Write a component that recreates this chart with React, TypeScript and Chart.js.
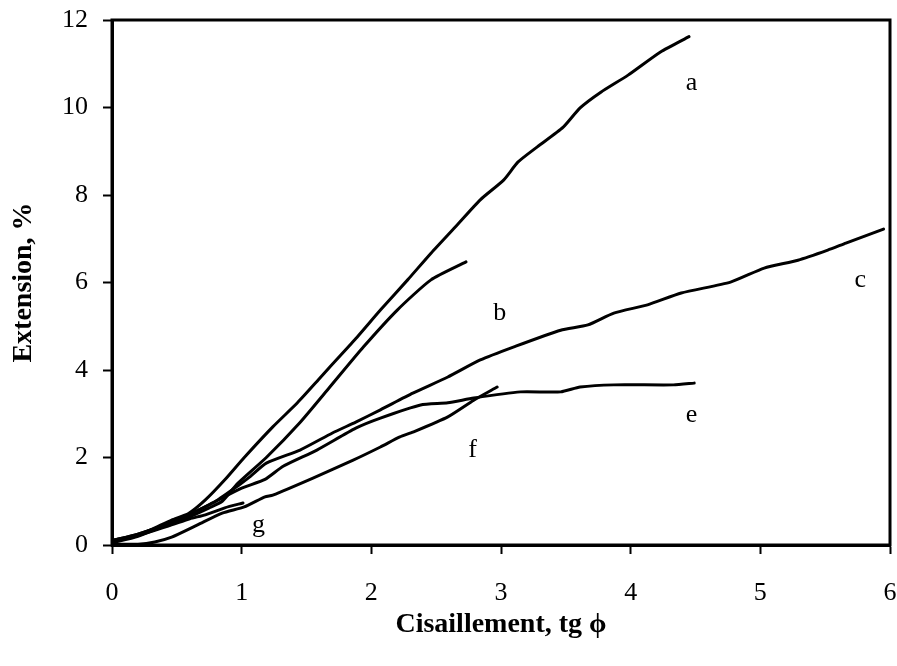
import React, { useEffect, useRef } from "react";
import { Chart, registerables } from "chart.js";

Chart.register(...registerables);

// Curve data (x = Cisaillement tg φ, y = Extension %)
const aX = [0, 0.16, 0.3, 0.46, 0.59, 0.72, 0.87, 1.02, 1.24, 1.43, 1.59, 1.68, 1.89, 2.07, 2.28, 2.46, 2.66, 2.84, 3.02, 3.13, 3.28, 3.48, 3.61, 3.77, 3.98, 4.23, 4.45];
const aY = [0.1, 0.18, 0.35, 0.57, 0.72, 1.03, 1.49, 2.0, 2.7, 3.25, 3.77, 4.07, 4.75, 5.37, 6.06, 6.67, 7.31, 7.89, 8.34, 8.75, 9.1, 9.55, 9.99, 10.35, 10.74, 11.27, 11.62];

const bX = [0, 0.2, 0.45, 0.6, 0.75, 0.85, 0.97, 1.19, 1.45, 1.68, 1.94, 2.2, 2.46, 2.73];
const bY = [0.05, 0.2, 0.5, 0.65, 0.85, 1.0, 1.41, 2.0, 2.8, 3.61, 4.53, 5.37, 6.06, 6.47];

const cX = [0, 0.2, 0.45, 0.6, 0.8, 0.97, 1.06, 1.19, 1.45, 1.7, 1.88, 2.07, 2.32, 2.59, 2.84, 3.1, 3.46, 3.67, 3.87, 4.13, 4.39, 4.77, 5.03, 5.29, 5.52, 5.66, 5.95];
const cY = [0.1, 0.25, 0.5, 0.7, 1.0, 1.35, 1.55, 1.87, 2.17, 2.56, 2.81, 3.09, 3.47, 3.84, 4.23, 4.53, 4.91, 5.03, 5.3, 5.49, 5.76, 6.01, 6.33, 6.51, 6.74, 6.9, 7.22];

const eX = [0, 0.2, 0.45, 0.6, 0.8, 1.0, 1.18, 1.32, 1.58, 1.88, 2.07, 2.38, 2.59, 2.79, 3.15, 3.46, 3.61, 3.87, 4.33, 4.49];
const eY = [0.1, 0.25, 0.5, 0.7, 1.0, 1.3, 1.5, 1.8, 2.17, 2.67, 2.9, 3.2, 3.25, 3.36, 3.5, 3.5, 3.61, 3.66, 3.66, 3.7];

const fX = [0, 0.2, 0.33, 0.46, 0.66, 0.85, 1.02, 1.18, 1.24, 1.55, 1.86, 2.07, 2.22, 2.32, 2.59, 2.79, 2.97];
const fY = [0.02, 0.02, 0.07, 0.18, 0.46, 0.73, 0.87, 1.1, 1.14, 1.53, 1.94, 2.24, 2.47, 2.58, 2.93, 3.31, 3.61];

const gX = [0, 0.2, 0.45, 0.6, 0.72, 0.87, 1.01];
const gY = [0.1, 0.22, 0.45, 0.6, 0.69, 0.85, 0.96];

const curveNames = ["a", "b", "c", "e", "f", "g"];
const curveLabelX = [4.47, 2.99, 5.77, 4.47, 2.78, 1.13];
const curveLabelY = [10.56, 5.3, 6.06, 2.97, 2.17, 0.46];

const xTicks = [0, 1, 2, 3, 4, 5, 6];
const yTicks = [0, 2, 4, 6, 8, 10, 12];

const xTitle = "Cisaillement, tg \u03D5";
const yTitle = "Extension, %";

const SERIF = "'Liberation Serif', 'Times New Roman', serif";

function pts(xs: number[], ys: number[]) {
  return xs.map((x, i) => ({ x, y: ys[i] }));
}

const frameAndLabels = {
  id: "frameAndLabels",
  afterDraw(chart: any) {
    const { ctx, chartArea } = chart;
    const xs = chart.scales.x;
    const ys = chart.scales.y;
    ctx.save();
    ctx.strokeStyle = "#000";
    ctx.lineWidth = 3;
    ctx.strokeRect(chartArea.left, chartArea.top, chartArea.right - chartArea.left, chartArea.bottom - chartArea.top);
    ctx.fillStyle = "#000";
    ctx.font = `26px ${SERIF}`;
    ctx.textAlign = "center";
    ctx.textBaseline = "middle";
    curveNames.forEach((n, i) => {
      ctx.fillText(n, xs.getPixelForValue(curveLabelX[i]), ys.getPixelForValue(curveLabelY[i]));
    });
    ctx.restore();
  },
};

export default function App() {
  const ref = useRef<HTMLCanvasElement | null>(null);
  useEffect(() => {
    document.body.style.margin = "0";
    const series = [pts(aX, aY), pts(bX, bY), pts(cX, cY), pts(eX, eY), pts(fX, fY), pts(gX, gY)];
    const chart = new Chart(ref.current as HTMLCanvasElement, {
      type: "scatter",
      data: {
        datasets: series.map((d, i) => ({
          label: curveNames[i],
          data: d,
          showLine: true,
          borderColor: "#000",
          backgroundColor: "#000",
          borderWidth: 3,
          pointRadius: 0,
          tension: 0.2,
          borderJoinStyle: "round" as const,
          borderCapStyle: "round" as const,
        })),
      },
      options: {
        animation: false,
        responsive: false,
        maintainAspectRatio: false,
        layout: { padding: { left: 0, right: 7, top: 20, bottom: 0 } },
        plugins: { legend: { display: false }, tooltip: { enabled: false } },
        scales: {
          x: {
            type: "linear",
            min: 0,
            max: 6,
            afterBuildTicks: (s: any) => {
              s.ticks = xTicks.map((v) => ({ value: v }));
            },
            afterFit: (s: any) => {
              s.height = 121;
              s.paddingLeft = 0;
              s.paddingRight = 0;
            },
            ticks: { color: "#000", font: { family: SERIF, size: 26 }, padding: 24 },
            grid: { drawOnChartArea: false, drawTicks: true, tickLength: 9, tickWidth: 2, tickColor: "#000" },
            border: { display: true, color: "#000", width: 3 },
            title: {
              display: true,
              text: xTitle,
              color: "#000",
              font: { family: SERIF, size: 28, weight: "bold" },
              padding: { top: 0, bottom: 24 },
            },
          },
          y: {
            type: "linear",
            min: 0,
            max: 12,
            afterBuildTicks: (s: any) => {
              s.ticks = yTicks.map((v) => ({ value: v }));
            },
            afterFit: (s: any) => {
              s.width = 112;
              s.paddingTop = 0;
              s.paddingBottom = 0;
            },
            ticks: { color: "#000", font: { family: SERIF, size: 26 }, padding: 15 },
            grid: { drawOnChartArea: false, drawTicks: true, tickLength: 9, tickWidth: 2, tickColor: "#000" },
            border: { display: true, color: "#000", width: 3 },
            title: {
              display: true,
              text: yTitle,
              color: "#000",
              font: { family: SERIF, size: 28, weight: "bold" },
              padding: { top: 7, bottom: 0 },
            },
          },
        },
      },
      plugins: [frameAndLabels],
    });
    return () => chart.destroy();
  }, []);
  return (
    <div style={{ position: "absolute", left: 0, top: 0, width: 897, height: 666, background: "#fff" }}>
      <canvas ref={ref} width={897} height={666} style={{ width: 897, height: 666 }} />
    </div>
  );
}
